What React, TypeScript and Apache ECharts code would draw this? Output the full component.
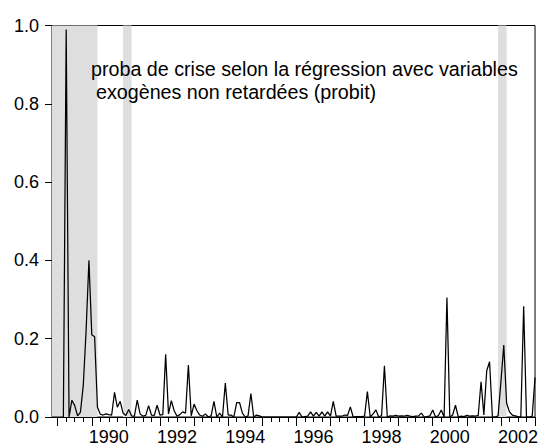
import React, { useEffect, useRef } from "react";
import * as echarts from "echarts";

// first observation: 1988M11, monthly
const startYear = 1988;
const startMonth = 11;

const probaValues: number[] = [
  // 1988M11 - 1989M12
  0.0, 0.0, 0.0, 0.0, 0.0, 0.99, 0.0, 0.043, 0.029, 0.003, 0.012, 0.08, 0.22, 0.4,
  // 1990
  0.21, 0.205, 0.025, 0.007, 0.005, 0.008, 0.006, 0.005, 0.063, 0.025, 0.04, 0.01,
  // 1991
  0.004, 0.019, 0.003, 0.002, 0.043, 0.008, 0.002, 0.004, 0.029, 0.005, 0.004, 0.03,
  // 1992
  0.005, 0.006, 0.16, 0.008, 0.042, 0.016, 0.002, 0.006, 0.013, 0.01, 0.133, 0.003,
  // 1993
  0.033, 0.016, 0.005, 0.002, 0.008, 0.0, 0.003, 0.04, 0.0, 0.01, 0.0, 0.087,
  // 1994
  0.005, 0.005, 0.0, 0.037, 0.037, 0.01, 0.0, 0.003, 0.06, 0.0, 0.005, 0.003,
  // 1995
  0.0, 0.0, 0.0, 0.0, 0.0, 0.0, 0.0, 0.0, 0.0, 0.0, 0.0, 0.0,
  // 1996
  0.0, 0.012, 0.0, 0.001, 0.002, 0.013, 0.002, 0.012, 0.002, 0.013, 0.002, 0.013,
  // 1997
  0.002, 0.04, 0.002, 0.002, 0.002, 0.005, 0.004, 0.026, 0.0, 0.001, 0.001, 0.001,
  // 1998
  0.002, 0.065, 0.0, 0.008, 0.018, 0.0, 0.004, 0.131, 0.0, 0.003, 0.002, 0.004,
  // 1999
  0.002, 0.003, 0.002, 0.004, 0.002, 0.001, 0.002, 0.003, 0.01, 0.0, 0.001, 0.003,
  // 2000
  0.018, 0.0, 0.004, 0.018, 0.0, 0.305, 0.0, 0.005, 0.03, 0.0, 0.002, 0.001,
  // 2001
  0.004, 0.002, 0.003, 0.002, 0.004, 0.09, 0.005, 0.118, 0.141, 0.0, 0.0, 0.003,
  // 2002
  0.09, 0.184, 0.035, 0.013, 0.005, 0.003, 0.001, 0.0, 0.283, 0.0, 0.0, 0.002,
  // 2003M1
  0.101,
];

const shadedPeriods: [string, string][] = [
  ["1988M11", "1990M03"],
  ["1990M12", "1991M03"],
  ["2001M12", "2002M03"],
];

const yTicks = [0, 0.2, 0.4, 0.6, 0.8, 1.0];
const labelYears = [1990, 1992, 1994, 1996, 1998, 2000, 2002];

const textLine1 = "proba de crise selon la régression avec variables";
const textLine2 = "exogènes non retardées (probit)";

const months: string[] = probaValues.map((_, i) => {
  const m0 = startYear * 12 + (startMonth - 1) + i;
  const y = Math.floor(m0 / 12);
  const m = (m0 % 12) + 1;
  return `${y}M${m < 10 ? "0" + m : m}`;
});

const monthOf = (v: string) => parseInt(v.split("M")[1], 10);
const yearOf = (v: string) => parseInt(v.split("M")[0], 10);

const FONT = "'Liberation Sans', Arial, Helvetica, sans-serif";

export default function App() {
  const ref = useRef<HTMLDivElement>(null);

  useEffect(() => {
    if (!ref.current) return;
    const chart = echarts.init(ref.current, undefined, { renderer: "svg" });
    chart.setOption({
      animation: false,
      backgroundColor: "#ffffff",
      textStyle: { fontFamily: FONT },
      grid: {
        left: 52,
        right: 4,
        top: 25.5,
        bottom: 30,
        show: true,
        borderColor: "#000000",
        borderWidth: 1,
        backgroundColor: "transparent",
      },
      xAxis: [
        {
          type: "category",
          data: months,
          boundaryGap: false,
          position: "bottom",
          axisLine: { show: true, lineStyle: { color: "#000", width: 1 } },
          axisTick: {
            show: true,
            inside: false,
            length: 5,
            lineStyle: { color: "#000", width: 1 },
            interval: (_i: number, v: string) => (monthOf(v) - 1) % 3 === 0,
          },
          axisLabel: {
            show: true,
            color: "#000",
            fontSize: 18,
            fontFamily: FONT,
            margin: 11,
            interval: (_i: number, v: string) =>
              monthOf(v) === 7 && labelYears.indexOf(yearOf(v)) >= 0,
            formatter: (v: string) => String(yearOf(v)),
          },
          splitLine: { show: false },
        },
        {
          type: "category",
          data: months,
          boundaryGap: false,
          position: "bottom",
          offset: 0,
          axisLine: { show: false },
          axisTick: {
            show: true,
            inside: false,
            length: 9,
            lineStyle: { color: "#000", width: 1 },
            interval: (_i: number, v: string) => monthOf(v) === 1,
          },
          axisLabel: { show: false },
          splitLine: { show: false },
        },
      ],
      yAxis: {
        type: "value",
        min: 0,
        max: 1,
        interval: 0.2,
        axisLine: { show: true, lineStyle: { color: "#000", width: 1 } },
        axisTick: { show: true, length: 7, lineStyle: { color: "#000", width: 1 } },
        axisLabel: {
          color: "#000",
          fontSize: 18,
          fontFamily: FONT,
          margin: 13,
          formatter: (v: number) =>
            yTicks.some((t) => Math.abs(t - v) < 1e-9) ? v.toFixed(1) : "",
        },
        splitLine: { show: false },
      },
      series: [
        {
          type: "line",
          data: probaValues,
          xAxisIndex: 0,
          showSymbol: false,
          symbol: "none",
          lineStyle: { color: "#000000", width: 1.25 },
          markArea: {
            silent: true,
            itemStyle: { color: "#dedede" },
            data: shadedPeriods.map(([a, b]) => [{ xAxis: a }, { xAxis: b }]),
          },
          z: 3,
        },
      ],
      graphic: [
        {
          type: "text",
          left: 91,
          top: 59,
          z: 10,
          style: {
            text: textLine1,
            fill: "#000",
            fontSize: 19.7,
            fontFamily: FONT,
          },
        },
        {
          type: "text",
          left: 96,
          top: 82,
          z: 10,
          style: {
            text: textLine2,
            fill: "#000",
            fontSize: 19.7,
            fontFamily: FONT,
          },
        },
      ],
    });
    return () => chart.dispose();
  }, []);

  return (
    <div
      ref={ref}
      style={{ width: 541, height: 447, position: "absolute", left: 0, top: 0 }}
    />
  );
}
